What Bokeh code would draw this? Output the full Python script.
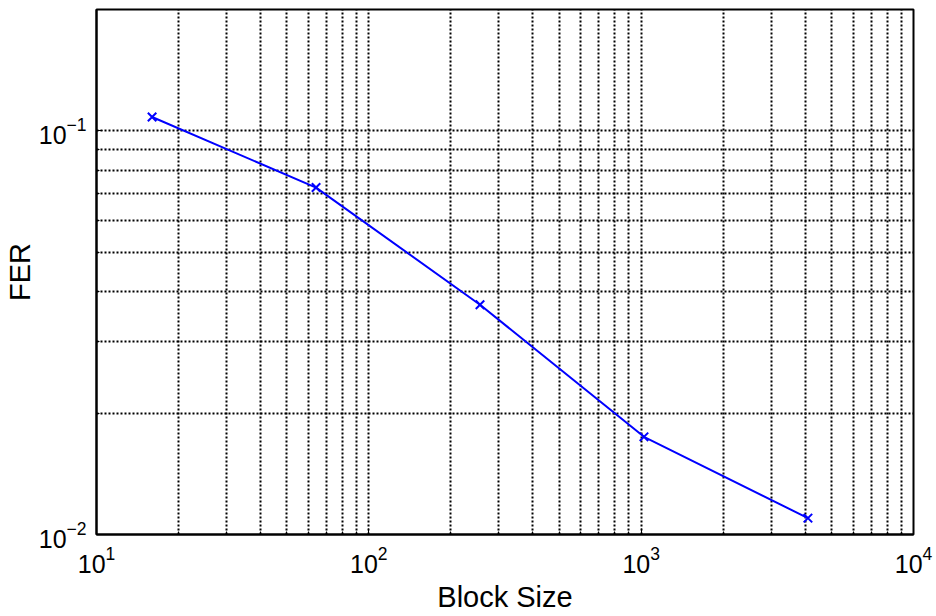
from bokeh.plotting import figure
from bokeh.models import FixedTicker
from bokeh.embed import file_html
from bokeh.resources import INLINE

# ---- data ----
block_size = [16, 64, 256, 1024, 4096]
fer = [0.1083, 0.0724, 0.0371, 0.01746, 0.01098]

x_major = [10, 100, 1000, 10000]
y_major = [0.01, 0.1]
x_minor = [m * 10 ** e for e in (1, 2, 3) for m in range(2, 10)]
y_minor = [m * 0.01 for m in range(2, 10)] + [0.2]

x_lo, x_hi = 10, 10000
y_lo, y_hi = 0.01, 0.2

FONT = "Liberation Sans"

p = figure(width=936, height=616, x_axis_type="log", y_axis_type="log",
           x_range=(x_lo, x_hi), y_range=(y_lo, y_hi),
           output_backend="svg", toolbar_location=None,
           min_border_left=95, min_border_right=23,
           min_border_top=9, min_border_bottom=82,
           x_axis_label="Block Size", y_axis_label="FER")

p.background_fill_color = "white"
p.border_fill_color = "white"
p.outline_line_color = "black"
p.outline_line_width = 2
p.outline_line_alpha = 1

p.xaxis.ticker = FixedTicker(ticks=x_major, minor_ticks=x_minor)
p.yaxis.ticker = FixedTicker(ticks=y_major, minor_ticks=y_minor)

for ax in p.axis:
    ax.major_label_text_font = FONT
    ax.major_label_text_font_size = "25px"
    ax.major_label_text_color = "black"
    ax.axis_label_text_font = FONT
    ax.axis_label_text_font_size = "29px"
    ax.axis_label_text_font_style = "normal"
    ax.axis_label_text_color = "black"
    ax.major_tick_in = 6
    ax.major_tick_out = 0
    ax.minor_tick_in = 3
    ax.minor_tick_out = 0
    ax.major_tick_line_color = "black"
    ax.minor_tick_line_color = "black"
    ax.axis_line_color = "black"
    ax.axis_line_width = 2

p.xaxis.major_label_standoff = 11
p.xaxis.axis_label_standoff = 5
p.yaxis.major_label_standoff = 10
p.yaxis.axis_label_standoff = 0

for g in p.grid:
    g.grid_line_color = "black"
    g.grid_line_dash = "2 2"
    g.grid_line_width = 2
    g.grid_line_alpha = 1
    g.minor_grid_line_color = "black"
    g.minor_grid_line_dash = "2 2"
    g.minor_grid_line_width = 2
    g.minor_grid_line_alpha = 1

p.line(block_size, fer, line_color="#0000ff", line_width=2)
p.scatter(block_size, fer, marker="x", size=12, line_color="#0000ff", line_width=2)

open("out.html", "w").write(file_html(p, INLINE))
